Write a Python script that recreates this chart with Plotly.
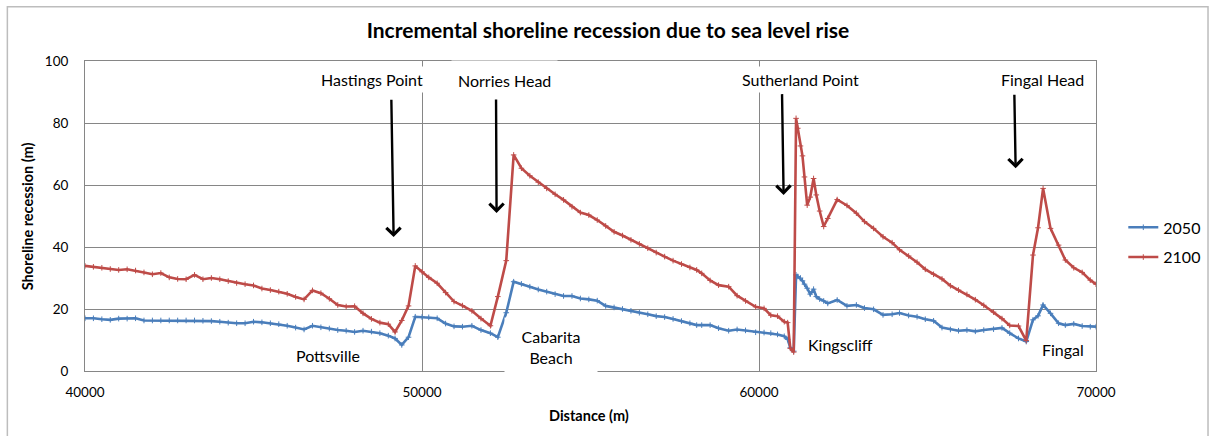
import plotly.graph_objects as go

# Chainage along the coast (m)
distance_m = [
    40000, 40250, 40500, 40750, 41000, 41250, 41500, 41750, 42000, 42250,
    42500, 42750, 43000, 43250, 43500, 43750, 44000, 44250, 44500, 44750,
    45000, 45250, 45500, 45750, 46000, 46250, 46500, 46750, 47000, 47250,
    47500, 47750, 48000, 48250, 48500, 48750, 49000, 49200, 49400, 49600,
    49800, 50000, 50200, 50450, 50700, 50950, 51200, 51480, 51750, 52030,
    52250, 52500, 52720, 52950, 53200, 53450, 53700, 53950, 54200, 54450,
    54700, 54950, 55200, 55450, 55700, 55950, 56200, 56450, 56700, 56950,
    57200, 57450, 57700, 57950, 58150, 58300, 58550, 58800, 59100, 59350,
    59600, 59900, 60150, 60350, 60550, 60750, 60850, 60930, 61030, 61100,
    61150, 61230, 61290, 61350, 61430, 61520, 61620, 61700, 61800, 61920,
    62040, 62320, 62610, 62890, 63130, 63400, 63680, 63950, 64170, 64440,
    64690, 64935, 65180, 65430, 65680, 65920, 66170, 66420, 66670, 66960,
    67210, 67440, 67700, 67930, 68130, 68280, 68430, 68650, 68890, 69090,
    69340, 69590, 69830, 70000,
]

# Shoreline recession for the 2050 planning horizon (m)
recession_2050 = [
    17.0, 17.0, 16.7, 16.5, 16.9, 16.9, 17.0, 16.3, 16.3, 16.3,
    16.3, 16.3, 16.3, 16.3, 16.2, 16.1, 15.9, 15.6, 15.4, 15.4,
    15.9, 15.7, 15.4, 15.1, 14.6, 14.0, 13.4, 14.6, 14.1, 13.7,
    13.2, 13.0, 12.6, 13.0, 12.7, 12.2, 11.4, 10.5, 8.4, 10.9,
    17.5, 17.4, 17.3, 17.0, 15.3, 14.4, 14.3, 14.6, 13.2, 12.2,
    10.9, 18.8, 28.8, 28.1, 27.2, 26.3, 25.6, 24.8, 24.2, 24.2,
    23.4, 23.1, 22.7, 21.0, 20.5, 20.0, 19.4, 18.8, 18.3, 17.7,
    17.4, 16.8, 16.1, 15.4, 14.8, 14.8, 14.8, 13.8, 13.0, 13.4,
    13.1, 12.5, 12.4, 12.2, 11.8, 11.2, 10.2, 7.5, 6.4, 31.0,
    30.5, 30.0, 29.1, 28.0, 26.7, 24.8, 26.4, 24.0, 23.2, 22.6,
    21.8, 22.9, 21.0, 21.3, 20.3, 19.9, 18.1, 18.3, 18.7, 17.9,
    17.5, 16.7, 16.2, 14.0, 13.4, 13.0, 13.2, 12.8, 13.2, 13.5,
    13.9, 12.2, 10.5, 9.5, 16.5, 17.8, 21.3, 18.6, 15.4, 14.8,
    15.2, 14.5, 14.3, 14.3,
]

# Shoreline recession for the 2100 planning horizon (m)
recession_2100 = [
    33.9, 33.6, 33.3, 32.9, 32.6, 32.8, 32.4, 31.8, 31.2, 31.6,
    30.2, 29.7, 29.6, 31.0, 29.6, 30.0, 29.6, 29.0, 28.4, 28.0,
    27.6, 26.6, 26.1, 25.6, 24.9, 23.9, 23.1, 26.0, 25.1, 23.3,
    21.3, 20.8, 20.9, 18.6, 16.8, 15.6, 15.1, 12.6, 16.3, 21.0,
    33.9, 32.0, 30.2, 28.3, 25.3, 22.4, 21.1, 19.4, 16.9, 14.6,
    24.0, 35.6, 69.7, 65.4, 63.0, 60.9, 58.9, 57.0, 55.2, 53.0,
    51.1, 50.3, 48.7, 46.8, 44.9, 43.7, 42.3, 41.0, 39.6, 38.2,
    36.9, 35.6, 34.5, 33.4, 32.6, 31.5, 29.2, 27.7, 27.2, 24.3,
    22.6, 20.7, 20.2, 18.0, 17.7, 15.9, 15.6, 7.3, 6.1, 81.5,
    78.3, 72.6, 69.4, 62.6, 53.5, 56.1, 62.1, 56.8, 51.6, 46.6,
    49.2, 55.3, 53.4, 50.9, 48.2, 46.0, 43.3, 41.4, 39.1, 37.1,
    35.1, 32.8, 31.2, 29.7, 27.5, 26.1, 24.7, 23.0, 21.2, 19.0,
    16.9, 14.7, 14.5, 9.8, 37.4, 46.2, 58.9, 46.0, 40.6, 35.8,
    33.3, 31.8, 29.3, 28.0,
]

assert len(distance_m) == len(recession_2050) == len(recession_2100)

x_ticks = [40000, 50000, 60000, 70000]
y_ticks = [0, 20, 40, 60, 80, 100]

# Headlands marked with arrows: (label, label x, arrow tail x, tail y, tip x, tip y)
headlands = [
    ("Hastings Point", 48525, 49090, 88.0, 49158, 43.2),
    ("Norries Head", 52442, 52196, 90.0, 52213, 51.0),
    ("Sutherland Point", 61226, 60683, 89.8, 60730, 56.8),
    ("Fingal Head", 68407, 67577, 89.6, 67615, 65.4),
]

# Beach names along the bottom: (text, x, y)
beaches = [
    ("Pottsville", 47220, 4.9),
    ("Cabarita<br>Beach", 53837, 7.8),
    ("Kingscliff", 62413, 8.4),
    ("Fingal", 69030, 6.8),
]

FONT = "Lato, 'Open Sans', sans-serif"
BLUE = "#4A7EBB"
RED = "#BE4B48"
GRID = "#868686"

fig = go.Figure()
for name, vals, col in [("2050", recession_2050, BLUE), ("2100", recession_2100, RED)]:
    fig.add_trace(go.Scatter(
        x=distance_m, y=vals, name=name, legendgroup=name, mode="lines+markers",
        line=dict(color=col, width=2.6),
        marker=dict(symbol="cross-thin-open", size=4, color=col,
                    line=dict(color=col, width=1)),
    ))

annotations = []
for label, lx, tx, ty, hx, hy in headlands:
    annotations.append(dict(
        x=hx, y=hy, xref="x", yref="y", ax=tx, ay=ty, axref="x", ayref="y",
        text="", showarrow=True, arrowhead=4, arrowsize=1.15, arrowwidth=2.4,
        arrowcolor="black", standoff=0,
    ))
    tall = label == "Norries Head"
    annotations.append(dict(
        x=lx, y=94.0, xref="x", yref="y", text=label, showarrow=False,
        font=dict(family=FONT, size=16, color="black"),
        bgcolor="white", borderpad=6 if tall else 3,
        height=26 if tall else None,
        xanchor="center", yanchor="middle",
    ))

for text, bx, by in beaches:
    boxed = "Beach" in text
    annotations.append(dict(
        x=bx, y=by, xref="x", yref="y", text=text, showarrow=False,
        font=dict(family=FONT, size=16, color="black"),
        bgcolor="white" if boxed else "rgba(0,0,0,0)",
        width=80 if boxed else None, height=46 if boxed else None,
        borderpad=6, xanchor="center", yanchor="middle",
    ))

# Axis titles
annotations.append(dict(
    x=-0.057, y=0.5, xref="paper", yref="paper", text="<b>Shoreline recession (m)</b>",
    textangle=-90, showarrow=False, font=dict(family=FONT, size=14.5, color="black"),
    xanchor="center", yanchor="middle",
))
annotations.append(dict(
    x=0.4985, y=-0.142, xref="paper", yref="paper", text="<b>Distance (m)</b>",
    showarrow=False, font=dict(family=FONT, size=14.5, color="black"),
    xanchor="center", yanchor="middle",
))

fig.update_layout(
    width=1211, height=436,
    margin=dict(l=85, r=115, t=61, b=65, autoexpand=False),
    paper_bgcolor="white", plot_bgcolor="white",
    title=dict(
        text="<b>Incremental shoreline recession due to sea level rise</b>",
        x=0.502, xref="container", xanchor="center",
        y=0.929, yref="container", yanchor="middle",
        font=dict(family=FONT, size=21, color="black"),
    ),
    xaxis=dict(
        range=[40000, 70000], tickvals=x_ticks, ticktext=[str(v) for v in x_ticks],
        showgrid=True, gridcolor=GRID, gridwidth=1, zeroline=False,
        showline=True, linecolor=GRID, linewidth=1, mirror=True,
        ticks="", ticklabelstandoff=9,
        tickfont=dict(family=FONT, size=13.5, color="black"),
    ),
    yaxis=dict(
        range=[0, 100], tickvals=y_ticks, ticktext=[str(v) for v in y_ticks],
        showgrid=True, gridcolor=GRID, gridwidth=1, zeroline=False,
        showline=True, linecolor=GRID, linewidth=1, mirror=True,
        ticks="", ticklabelstandoff=13,
        tickfont=dict(family=FONT, size=13.5, color="black"),
    ),
    legend=dict(
        x=1.027, y=0.415, xref="paper", yref="paper", xanchor="left", yanchor="middle",
        font=dict(family=FONT, size=16, color="black"),
        bgcolor="rgba(0,0,0,0)", itemwidth=30, tracegroupgap=6,
    ),
    annotations=annotations,
    shapes=[dict(
        type="rect", xref="paper", yref="paper",
        x0=-0.0768, x1=1.1108, y0=-0.25, y1=1.175,
        line=dict(color="#BDBDBD", width=1.5), layer="below",
    )],
    showlegend=True,
)

fig.write_html("out.html")
